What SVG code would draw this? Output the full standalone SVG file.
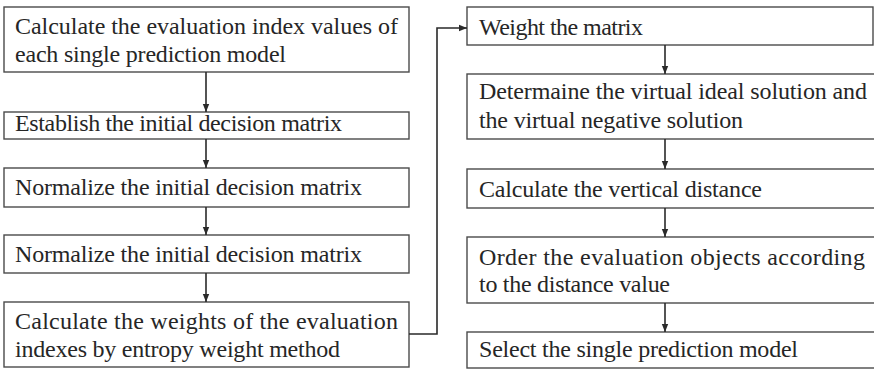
<svg xmlns="http://www.w3.org/2000/svg" width="874" height="370" viewBox="0 0 874 370">
  <style>
    .box { fill: #ffffff; stroke: #4a4a4a; stroke-width: 1.4; }
    .lbl { font-size: 24px; fill: #262626; }
    .wire { fill: none; stroke: #2a2a2a; stroke-width: 1.6; }
  </style>
  <defs>
    <marker id="arrow" viewBox="0 0 8 8" refX="8" refY="4" markerWidth="8" markerHeight="8" markerUnits="userSpaceOnUse" orient="auto">
      <path d="M0,0.8 L8,4 L0,7.2 Z" fill="#2a2a2a"/>
    </marker>
  </defs>
  <rect width="874" height="370" fill="#ffffff"/>

  <g font-family="Liberation Serif, Times New Roman, serif">
    <!-- left column -->
    <g id="calc-index">
      <rect class="box" x="4" y="7" width="405" height="65"/>
      <text class="lbl" x="15" y="34" textLength="383">Calculate the evaluation index values of</text>
      <text class="lbl" x="15" y="62" textLength="271">each single prediction model</text>
    </g>
    <g id="establish-matrix">
      <rect class="box" x="4" y="112" width="405" height="27"/>
      <text class="lbl" x="15" y="131" textLength="327">Establish the initial decision matrix</text>
    </g>
    <g id="normalize-1">
      <rect class="box" x="4" y="168" width="405" height="39"/>
      <text class="lbl" x="15" y="195" textLength="347">Normalize the initial decision matrix</text>
    </g>
    <g id="normalize-2">
      <rect class="box" x="4" y="235" width="405" height="38"/>
      <text class="lbl" x="15" y="262" textLength="347">Normalize the initial decision matrix</text>
    </g>
    <g id="entropy-weights">
      <rect class="box" x="4" y="302" width="405" height="65"/>
      <text class="lbl" x="15" y="329" textLength="383">Calculate the weights of the evaluation</text>
      <text class="lbl" x="15" y="357" textLength="325">indexes by entropy weight method</text>
    </g>

    <!-- right column -->
    <g id="weight-matrix">
      <rect class="box" x="467" y="7" width="406" height="38"/>
      <text class="lbl" x="479" y="35" textLength="164">Weight the matrix</text>
    </g>
    <g id="ideal-solution">
      <rect class="box" x="467" y="74" width="410" height="65"/>
      <text class="lbl" x="479" y="99" textLength="388">Determaine the virtual ideal solution and</text>
      <text class="lbl" x="479" y="128" textLength="264">the virtual negative solution</text>
    </g>
    <g id="vertical-distance">
      <rect class="box" x="467" y="169" width="410" height="39"/>
      <text class="lbl" x="479" y="197" textLength="283">Calculate the vertical distance</text>
    </g>
    <g id="order-objects">
      <rect class="box" x="467" y="237" width="410" height="66"/>
      <text class="lbl" x="479" y="265" textLength="386">Order the evaluation objects according</text>
      <text class="lbl" x="479" y="292" textLength="191">to the distance value</text>
    </g>
    <g id="select-model">
      <rect class="box" x="467" y="332" width="410" height="36"/>
      <text class="lbl" x="479" y="357" textLength="319">Select the single prediction model</text>
    </g>
  </g>

  <!-- connectors -->
  <g id="connectors">
    <line class="wire" x1="206" y1="72" x2="206" y2="112" marker-end="url(#arrow)"/>
    <line class="wire" x1="206" y1="139" x2="206" y2="168" marker-end="url(#arrow)"/>
    <line class="wire" x1="206" y1="207" x2="206" y2="235" marker-end="url(#arrow)"/>
    <line class="wire" x1="206" y1="273" x2="206" y2="302" marker-end="url(#arrow)"/>
    <polyline class="wire" points="409,334 437,334 437,28 467,28" marker-end="url(#arrow)"/>
    <line class="wire" x1="665" y1="45" x2="665" y2="74" marker-end="url(#arrow)"/>
    <line class="wire" x1="665" y1="139" x2="665" y2="169" marker-end="url(#arrow)"/>
    <line class="wire" x1="665" y1="208" x2="665" y2="237" marker-end="url(#arrow)"/>
    <line class="wire" x1="665" y1="303" x2="665" y2="332" marker-end="url(#arrow)"/>
  </g>
</svg>
